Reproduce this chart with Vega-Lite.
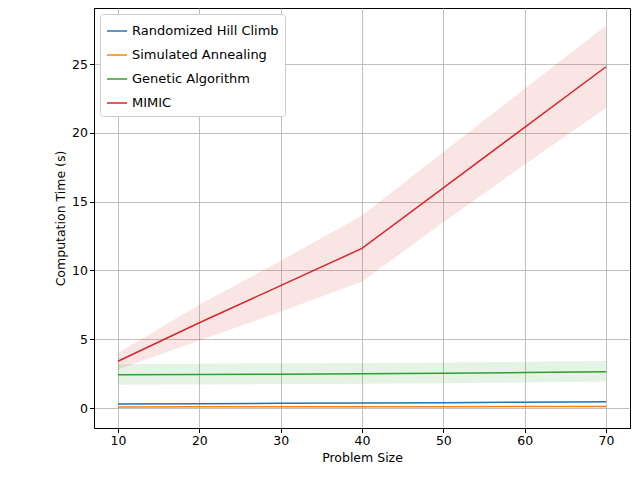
{
"$schema":"https://vega.github.io/schema/vega-lite/v6.json",
"width":536,"height":420,"autosize":{"type":"none"},
"padding":{"left":94,"top":8,"right":10,"bottom":52},
"background":"white",
"config":{"font":"DejaVu Sans","view":{"stroke":"black","strokeWidth":1},
"axis":{"labelFontSize":12.5,"titleFontSize":12.5,"labelColor":"black","titleColor":"black","titleFontWeight":"normal","gridColor":"#b0b0b0","gridWidth":0.8,"domainColor":"black","tickColor":"black","tickSize":4.5}},
"data":{"values":[
{"a":"Randomized Hill Climb","n":10,"m":0.3,"lo":0.25,"hi":0.35},
{"a":"Randomized Hill Climb","n":20,"m":0.32,"lo":0.27,"hi":0.37},
{"a":"Randomized Hill Climb","n":30,"m":0.34,"lo":0.29,"hi":0.39},
{"a":"Randomized Hill Climb","n":40,"m":0.36,"lo":0.31,"hi":0.41},
{"a":"Randomized Hill Climb","n":50,"m":0.39,"lo":0.34,"hi":0.44},
{"a":"Randomized Hill Climb","n":60,"m":0.42,"lo":0.37,"hi":0.47},
{"a":"Randomized Hill Climb","n":70,"m":0.45,"lo":0.4,"hi":0.5},
{"a":"Simulated Annealing","n":10,"m":0.08,"lo":0.06,"hi":0.1},
{"a":"Simulated Annealing","n":20,"m":0.09,"lo":0.07,"hi":0.11},
{"a":"Simulated Annealing","n":30,"m":0.09,"lo":0.07,"hi":0.11},
{"a":"Simulated Annealing","n":40,"m":0.1,"lo":0.08,"hi":0.12},
{"a":"Simulated Annealing","n":50,"m":0.1,"lo":0.08,"hi":0.12},
{"a":"Simulated Annealing","n":60,"m":0.11,"lo":0.09,"hi":0.13},
{"a":"Simulated Annealing","n":70,"m":0.12,"lo":0.1,"hi":0.14},
{"a":"Genetic Algorithm","n":10,"m":2.42,"lo":1.7,"hi":3.2},
{"a":"Genetic Algorithm","n":20,"m":2.44,"lo":1.72,"hi":3.22},
{"a":"Genetic Algorithm","n":30,"m":2.46,"lo":1.74,"hi":3.24},
{"a":"Genetic Algorithm","n":40,"m":2.49,"lo":1.77,"hi":3.27},
{"a":"Genetic Algorithm","n":50,"m":2.53,"lo":1.81,"hi":3.31},
{"a":"Genetic Algorithm","n":60,"m":2.58,"lo":1.86,"hi":3.36},
{"a":"Genetic Algorithm","n":70,"m":2.64,"lo":1.92,"hi":3.42},
{"a":"MIMIC","n":10,"m":3.4,"lo":2.8,"hi":4.0},
{"a":"MIMIC","n":20,"m":6.2,"lo":4.9,"hi":7.5},
{"a":"MIMIC","n":30,"m":8.9,"lo":7.0,"hi":10.7},
{"a":"MIMIC","n":40,"m":11.6,"lo":9.2,"hi":14.0},
{"a":"MIMIC","n":50,"m":16.0,"lo":13.5,"hi":18.6},
{"a":"MIMIC","n":60,"m":20.4,"lo":17.7,"hi":23.2},
{"a":"MIMIC","n":70,"m":24.8,"lo":21.8,"hi":27.8}
]},
"encoding":{
"x":{"field":"n","type":"quantitative","title":"Problem Size","scale":{"domain":[7.05,72.95],"nice":false,"zero":false},"axis":{"values":[10,20,30,40,50,60,70]}},
"color":{"field":"a","type":"nominal","sort":null,"scale":{"domain":["Randomized Hill Climb","Simulated Annealing","Genetic Algorithm","MIMIC"],"range":["#1f77b4","#ff7f0e","#2ca02c","#d62728"]},
"legend":{"title":null,"orient":"top-left","offset":6,"fillColor":"white","strokeColor":"#cccccc","padding":6,"cornerRadius":3,"labelFontSize":13,"symbolType":"stroke","symbolSize":400,"symbolStrokeWidth":1.5,"symbolOpacity":1,"rowPadding":6,"labelColor":"black"}}
},
"layer":[
{"mark":{"type":"area","opacity":0.12,"clip":true},"encoding":{"y":{"field":"lo","type":"quantitative"},"y2":{"field":"hi"}}},
{"mark":{"type":"line","strokeWidth":1.5,"clip":true},"encoding":{"y":{"field":"m","type":"quantitative","title":"Computation Time (s)","scale":{"domain":[-1.45,29.07],"nice":false,"zero":false},"axis":{"values":[0,5,10,15,20,25]}}}}
]
}
